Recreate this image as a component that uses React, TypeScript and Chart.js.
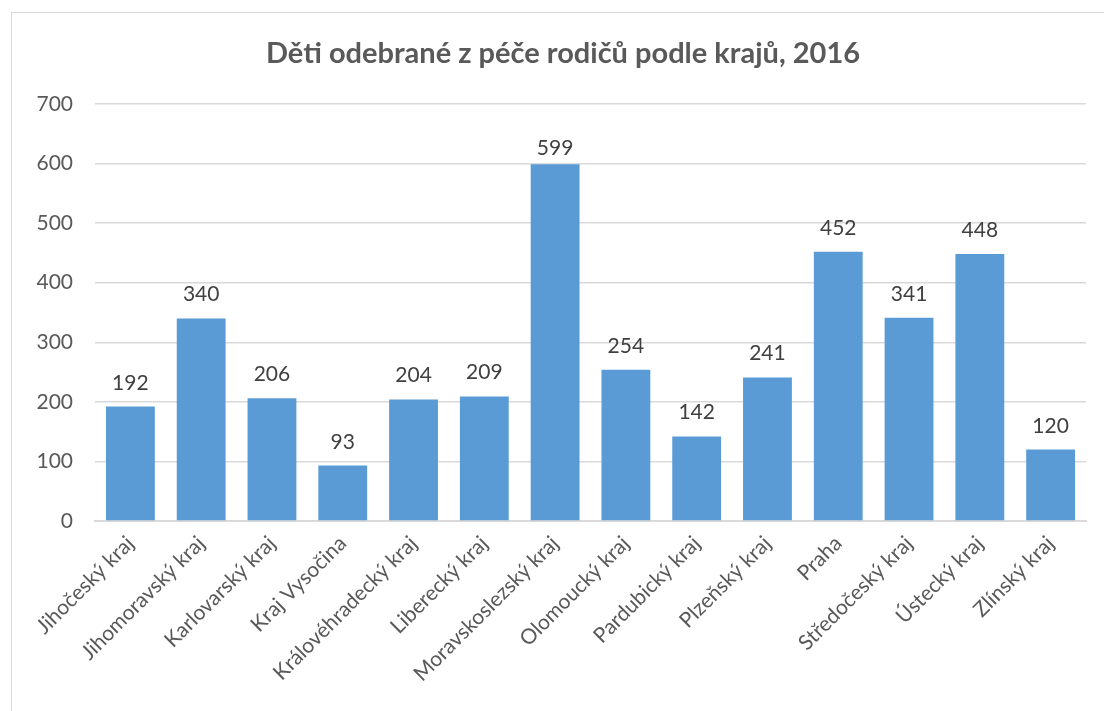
import React, { useEffect, useRef } from "react";
import { Chart, registerables } from "chart.js";

Chart.register(...registerables);

const titleText = "Děti odebrané z péče rodičů podle krajů, 2016";
const categories = [
  "Jihočeský kraj",
  "Jihomoravský kraj",
  "Karlovarský kraj",
  "Kraj Vysočina",
  "Královéhradecký kraj",
  "Liberecký kraj",
  "Moravskoslezský kraj",
  "Olomoucký kraj",
  "Pardubický kraj",
  "Plzeňský kraj",
  "Praha",
  "Středočeský kraj",
  "Ústecký kraj",
  "Zlínský kraj",
];
const values = [192, 340, 206, 93, 204, 209, 599, 254, 142, 241, 452, 341, 448, 120];
const yTicks = [0, 100, 200, 300, 400, 500, 600, 700];

const FONT = "Lato";

const titlePlugin = {
  id: "customTitle",
  afterDraw(chart: any) {
    const ctx = chart.ctx;
    ctx.save();
    ctx.font = `bold 29px ${FONT}`;
    ctx.fillStyle = "#595959";
    ctx.textAlign = "center";
    ctx.textBaseline = "alphabetic";
    ctx.fillText(titleText, 551, 50);
    ctx.restore();
  },
};

const labelPlugin = {
  id: "barLabels",
  afterDatasetsDraw(chart: any) {
    const ctx = chart.ctx;
    const meta = chart.getDatasetMeta(0);
    ctx.save();
    ctx.font = `21px ${FONT}`;
    ctx.fillStyle = "#404040";
    ctx.textAlign = "center";
    ctx.textBaseline = "alphabetic";
    meta.data.forEach((bar: any, i: number) => {
      const y = Math.max(bar.y - 17, chart.chartArea.top + 51);
      ctx.fillText(String(values[i]), bar.x, y);
    });
    ctx.restore();
  },
};

export default function App() {
  const ref = useRef<HTMLCanvasElement | null>(null);

  useEffect(() => {
    if (!ref.current) return;
    const chart = new Chart(ref.current, {
      type: "bar",
      data: {
        labels: categories,
        datasets: [
          {
            data: values,
            backgroundColor: "#5B9BD5",
            borderWidth: 0,
            barPercentage: 0.69,
            categoryPercentage: 1,
          },
        ],
      },
      options: {
        responsive: false,
        animation: false,
        devicePixelRatio: 1,
        layout: { padding: { top: 91, right: 30, left: 0, bottom: 0 } },
        plugins: {
          legend: { display: false },
          title: { display: false },
          tooltip: { enabled: false },
        },
        scales: {
          x: {
            grid: { display: false, drawTicks: false },
            border: { display: true, color: "#d9d9d9", width: 2 },
            ticks: {
              color: "#595959",
              font: { family: FONT, size: 21 },
              minRotation: 45,
              maxRotation: 45,
              padding: 10,
              autoSkip: false,
            },
            afterFit(scale: any) {
              scale.height = 190;
            },
          },
          y: {
            min: 0,
            max: 700,
            afterBuildTicks(scale: any) {
              scale.ticks = yTicks.map((v) => ({ value: v }));
            },
            grid: { color: "#d9d9d9", lineWidth: 1.5, drawTicks: false },
            border: { display: false },
            ticks: {
              color: "#595959",
              font: { family: FONT, size: 21 },
              padding: 22,
            },
            afterFit(scale: any) {
              scale.width = 83;
            },
          },
        },
      },
      plugins: [titlePlugin, labelPlugin],
    });
    return () => chart.destroy();
  }, []);

  return (
    <div
      style={{
        position: "fixed",
        left: 0,
        top: 0,
        width: 1104,
        height: 711,
        overflow: "hidden",
        background: "#ffffff",
      }}
    >
      <div
        style={{
          position: "absolute",
          left: 11,
          top: 12,
          width: 1120,
          height: 720,
          border: "1px solid #d9d9d9",
        }}
      />
      <canvas
        ref={ref}
        width={1104}
        height={698}
        style={{ position: "absolute", left: 12, top: 13, width: 1104, height: 698 }}
      />
    </div>
  );
}
